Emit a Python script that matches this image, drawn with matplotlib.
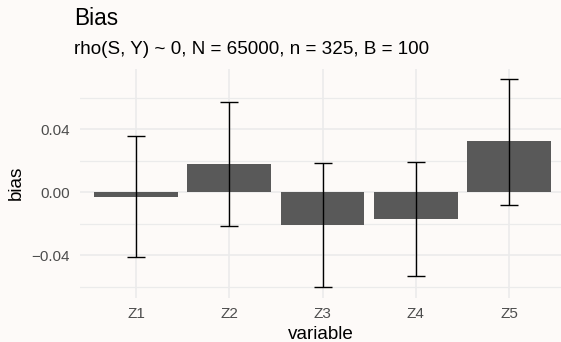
import matplotlib
matplotlib.use('Agg')
import matplotlib.pyplot as plt
import numpy as np

variables = ['Z1', 'Z2', 'Z3', 'Z4', 'Z5']
bias = [-0.0032, 0.0178, -0.0208, -0.0171, 0.0324]
lower = [-0.0410, -0.0216, -0.0603, -0.0533, -0.0081]
upper = [0.0356, 0.0571, 0.0188, 0.0194, 0.0719]

BG = '#fdfaf8'
GRID = '#ebebeb'
W, H = 561, 342

plt.rcParams['font.family'] = ['Liberation Sans', 'DejaVu Sans']

fig = plt.figure(figsize=(W / 100, H / 100), dpi=100)
fig.patch.set_facecolor(BG)

# panel position in pixels (right edge runs a bit past the image)
left, right, top, bottom = 80, 565, 68.7, 297.7
ax = fig.add_axes([left / W, (H - bottom) / H, (right - left) / W, (bottom - top) / H])
ax.set_facecolor(BG)

x = np.arange(len(variables))
ax.bar(x, bias, width=0.9, color='#595959', zorder=2)
yerr = [np.array(bias) - np.array(lower), np.array(upper) - np.array(bias)]
ax.errorbar(x, bias, yerr=yerr, fmt='none', ecolor='black', elinewidth=1.0,
            capsize=6.7, capthick=1.0, zorder=3)

# ggplot-style 5% expansion on y, 0.6 on discrete x
lo, hi = min(lower), max(upper)
pad = (hi - lo) * 0.05
ax.set_ylim(lo - pad, hi + pad)
ax.set_xlim(-0.6, len(variables) - 0.4)

ax.set_yticks([-0.04, 0.0, 0.04])
ax.set_yticklabels(['\u22120.04', '0.00', '0.04'])
ax.set_yticks([-0.06, -0.02, 0.02, 0.06], minor=True)
ax.set_xticks(x)
ax.set_xticklabels(variables)

ax.grid(True, which='major', color=GRID, linewidth=1.2, zorder=0)
ax.grid(True, which='minor', axis='y', color=GRID, linewidth=0.9, zorder=0)
ax.set_axisbelow(True)
for s in ax.spines.values():
    s.set_visible(False)
ax.tick_params(which='both', length=0, labelsize=11, labelcolor='#4d4d4d')
ax.tick_params(axis='y', pad=7.2)
ax.tick_params(axis='x', pad=6.5)

# titles
fig.text(74 / W, (H - 25) / H, 'Bias', fontsize=16.3, color='black',
         ha='left', va='baseline')
fig.text(74 / W, (H - 54.3) / H, 'rho(S, Y) ~ 0, N = 65000, n = 325, B = 100',
         fontsize=13.6, color='black', ha='left', va='baseline')
fig.text(321 / W, (H - 339) / H, 'variable',
         fontsize=13.6, ha='center', va='baseline')
fig.text(16 / W, (H - 183) / H, 'bias', fontsize=13.6, rotation=90,
         ha='center', va='center')

fig.savefig('out.png', dpi=100, facecolor=BG)
